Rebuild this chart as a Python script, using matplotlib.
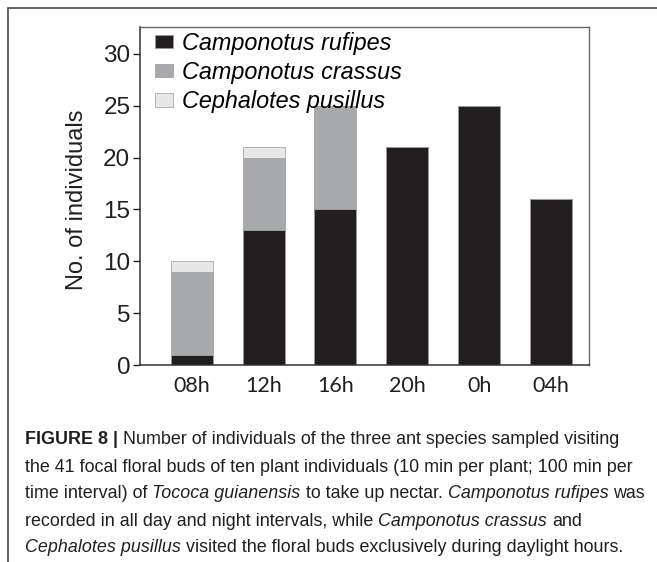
import matplotlib
matplotlib.use("Agg")
import matplotlib.pyplot as plt
import numpy as np
from matplotlib.patches import Rectangle

# data
hours = ["08h", "12h", "16h", "20h", "0h", "04h"]
rufipes = [1, 13, 15, 21, 25, 16]
crassus = [8, 7, 10, 0, 0, 0]
pusillus = [1, 1, 0, 0, 0, 0]
species = ["Camponotus rufipes", "Camponotus crassus", "Cephalotes pusillus"]
colors = ["#231f20", "#a7a9ac", "#e6e7e8"]
yticks = [0, 5, 10, 15, 20, 25, 30]

caption = [
    [("FIGURE 8 | ", "bold"),
     ("Number of individuals of the three ant species sampled visiting", "normal")],
    [("the 41 focal floral buds of ten plant individuals (10 min per plant; 100 min per", "normal")],
    [("time interval) of ", "normal"), ("Tococa guianensis", "italic"),
     (" to take up nectar. ", "normal"), ("Camponotus rufipes", "italic"), (" was", "normal")],
    [("recorded in all day and night intervals, while ", "normal"),
     ("Camponotus crassus", "italic"), (" and", "normal")],
    [("Cephalotes pusillus", "italic"),
     (" visited the floral buds exclusively during daylight hours.", "normal")],
]

plt.rcParams["font.family"] = ["Liberation Sans", "DejaVu Sans"]

fig = plt.figure(figsize=(6.57, 5.62), dpi=100)
ax = fig.add_axes([140 / 657, 1 - 365 / 562, 449 / 657, 338 / 562])

x = np.arange(len(hours))
w = 0.585
bottom = np.zeros(len(hours))
for vals, c, lab in zip([rufipes, crassus, pusillus], colors, species):
    ax.bar(x, vals, w, bottom=bottom, color=c, edgecolor="#9a9a9a",
           linewidth=0.5, label=lab)
    bottom += np.array(vals)

ax.set_xlim(-0.72, 5.53)
ax.set_ylim(0, 32.6)
ax.set_yticks(yticks)
ax.set_xticks(x)
ax.set_xticklabels(hours, family=["Lato", "DejaVu Sans"], fontsize=15.5)
ax.tick_params(axis="x", length=0, pad=8, colors="#231f20")
ax.tick_params(axis="y", length=5, width=1, pad=2, labelsize=17.5,
               colors="#231f20")
for s in ["left", "bottom"]:
    ax.spines[s].set_color("#333333")
    ax.spines[s].set_linewidth(1.1)
for s in ["top", "right"]:
    ax.spines[s].set_color("#666666")
    ax.spines[s].set_linewidth(1.0)

ax.set_ylabel("No. of individuals", fontsize=17, color="#231f20")
ax.yaxis.set_label_coords(-0.115, 0.49)

ax.legend(loc="upper left", bbox_to_anchor=(0.033, 0.986), frameon=False,
          prop={"style": "italic", "size": 16.8}, handlelength=0.78,
          handleheight=0.5, handletextpad=0.38, labelspacing=0.27,
          borderpad=0, borderaxespad=0)

# outer frame of the figure panel
fig.add_artist(Rectangle((8 / 657, -0.05), 1.2, 1 - 8 / 562 + 0.05,
                         transform=fig.transFigure, fill=False,
                         edgecolor="#555555", linewidth=1.3))

# caption with mixed bold / italic runs
fig.canvas.draw()
r = fig.canvas.get_renderer()
cap_font = ["Liberation Sans", "DejaVu Sans"]
cap_size = 12.85


def text_w(s, style):
    t = fig.text(0, 0, s, fontsize=cap_size, family=cap_font,
                 fontweight="bold" if style == "bold" else "normal",
                 fontstyle="italic" if style == "italic" else "normal")
    bb = t.get_window_extent(r)
    t.remove()
    return bb.width


y0 = 440
for i, line in enumerate(caption):
    xpix = 25
    ypix = y0 + i * 27.0
    for seg, style in line:
        lead = len(seg) - len(seg.lstrip(" "))
        trail = len(seg) - len(seg.rstrip(" "))
        sp = text_w("a a", style) - text_w("aa", style)
        core = seg.strip(" ")
        xpix += lead * sp
        fig.text(xpix / 657, 1 - ypix / 562, core, fontsize=cap_size,
                 family=cap_font, va="center", ha="left", color="#231f20",
                 fontweight="bold" if style == "bold" else "normal",
                 fontstyle="italic" if style == "italic" else "normal")
        xpix += text_w(core, style) + trail * sp

fig.savefig("out.png", dpi=100)
